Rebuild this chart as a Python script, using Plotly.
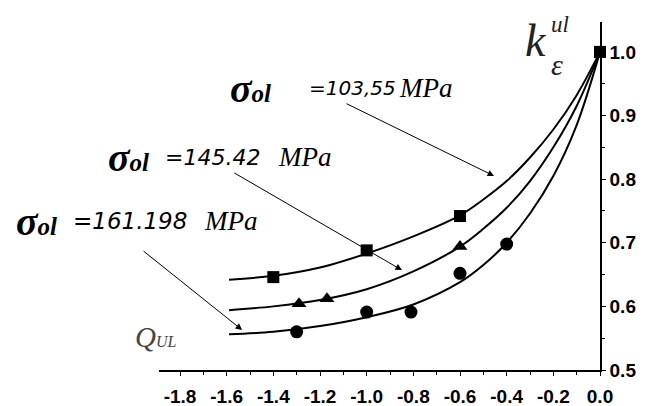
import plotly.graph_objects as go

# ---- data ----
x_ticks = [-1.8, -1.6, -1.4, -1.2, -1.0, -0.8, -0.6, -0.4, -0.2, 0.0]
x_tick_text = ["-1.8", "-1.6", "-1.4", "-1.2", "-1.0", "-0.8", "-0.6", "-0.4", "-0.2", "0.0"]
y_ticks = [0.5, 0.6, 0.7, 0.8, 0.9, 1.0]
y_tick_text = ["0.5", "0.6", "0.7", "0.8", "0.9", "1.0"]

# fitted curves
curve_x = [-1.59, -1.4, -1.2, -1.0, -0.8, -0.6, -0.5, -0.4, -0.3, -0.2, -0.1, 0.0]
curve_103 = [0.642, 0.648, 0.661, 0.683, 0.710, 0.743, 0.768, 0.797, 0.834, 0.878, 0.932, 1.0]
curve_145 = [0.594, 0.600, 0.610, 0.627, 0.655, 0.694, 0.722, 0.755, 0.797, 0.850, 0.915, 1.0]
curve_161 = [0.556, 0.560, 0.569, 0.583, 0.603, 0.638, 0.665, 0.700, 0.746, 0.805, 0.885, 1.0]

# measured points
sq_x = [-1.40, -1.00, -0.60, 0.0]
sq_y = [0.646, 0.688, 0.742, 1.0]
tri_x = [-1.29, -1.17, -0.60]
tri_y = [0.604, 0.612, 0.694]
circ_x = [-1.30, -1.00, -0.81, -0.60, -0.40]
circ_y = [0.560, 0.591, 0.591, 0.652, 0.698]

labels_val = ["=103,55", "=145.42", "=161.198"]

# ---- layout geometry ----
W, H = 655, 406
ML, MR, MT, MB = 159, 55, 22, 36
PW, PH = W - ML - MR, H - MT - MB

def px(xp):
    return (xp - ML) / PW

def py(yp):
    return (H - MB - yp) / PH

fig = go.Figure()
for cy in (curve_103, curve_145, curve_161):
    fig.add_trace(go.Scatter(x=curve_x, y=cy, mode="lines",
                             line=dict(color="black", width=2, shape="spline"),
                             cliponaxis=False, hoverinfo="skip"))
fig.add_trace(go.Scatter(x=sq_x, y=sq_y, mode="markers",
                         marker=dict(symbol="square", size=12, color="black"), cliponaxis=False))
fig.add_trace(go.Scatter(x=tri_x, y=tri_y, mode="markers",
                         marker=dict(symbol="triangle-up", size=13, color="black"), cliponaxis=False))
fig.add_trace(go.Scatter(x=circ_x, y=circ_y, mode="markers",
                         marker=dict(symbol="circle", size=13, color="black"), cliponaxis=False))

ann = []
serif = "Liberation Serif"
# sigma labels: (sigma left, value left, MPa left, center y, value font size)
label_pos = [(228, 307, 397, 88, 20), (106, 163, 276, 157, 22), (14, 71, 202, 221, 23)]
for (sx, vx, mx, cy, vs), val in zip(label_pos, labels_val):
    ann.append(dict(x=px(sx), y=py(cy), xref="paper", yref="paper", xanchor="left", yanchor="middle",
                    text='<b><i>σ<span style="font-size:25px">ol</span></i></b>', showarrow=False,
                    font=dict(family=serif, size=40, color="black")))
    ann.append(dict(x=px(vx), y=py(cy), xref="paper", yref="paper", xanchor="left", yanchor="middle",
                    text="<i>" + val + "</i>", showarrow=False,
                    font=dict(family="DejaVu Sans", size=vs, color="black")))
    ann.append(dict(x=px(mx), y=py(cy), xref="paper", yref="paper", xanchor="left", yanchor="middle",
                    text="<i>MPa</i>", showarrow=False, font=dict(family=serif, size=27, color="black")))

# arrows: tip in data coords, tail offset in pixels
arrows = [(-0.454, 0.805, -149, -73), (-0.849, 0.657, -169, -98), (-1.534, 0.563, -100, -80)]
for axx, ayy, dx, dy in arrows:
    ann.append(dict(x=axx, y=ayy, xref="x", yref="y", ax=dx, ay=dy, text="", showarrow=True,
                    arrowhead=2, arrowsize=1.3, arrowwidth=1, arrowcolor="black", standoff=0))

# axis title k_eps^ul
ann.append(dict(x=px(523), y=py(40), xref="paper", yref="paper", xanchor="left", yanchor="middle",
                text="<i>k</i>", showarrow=False, font=dict(family=serif, size=46, color="#222")))
ann.append(dict(x=px(549), y=py(25), xref="paper", yref="paper", xanchor="left", yanchor="middle",
                text="<i>ul</i>", showarrow=False, font=dict(family=serif, size=23, color="#222")))
ann.append(dict(x=px(549), y=py(64), xref="paper", yref="paper", xanchor="left", yanchor="middle",
                text="<i>ε</i>", showarrow=False, font=dict(family=serif, size=30, color="#222")))
# Q_UL
ann.append(dict(x=px(133), y=py(337), xref="paper", yref="paper", xanchor="left", yanchor="middle",
                text='<i>Q<span style="font-size:16px">UL</span></i>', showarrow=False,
                font=dict(family=serif, size=29, color="#444")))

tickfont = dict(family="Liberation Sans", size=19, color="black", weight="bold")
fig.update_layout(
    width=W, height=H, margin=dict(l=ML, r=MR, t=MT, b=MB),
    paper_bgcolor="white", plot_bgcolor="white", showlegend=False,
    annotations=ann,
    xaxis=dict(range=[-1.89, 0.0], tickvals=x_ticks, ticktext=x_tick_text, automargin=False,
               showgrid=False, zeroline=False, showline=True, linecolor="black", linewidth=1.5,
               ticks="outside", ticklen=4, tickcolor="black", ticklabelstandoff=4,
               minor=dict(dtick=0.1, tick0=0, ticks="outside", ticklen=3, tickcolor="black"),
               tickfont=tickfont),
    yaxis=dict(range=[0.5, 1.047], tickvals=y_ticks, ticktext=y_tick_text, side="right", automargin=False,
               showgrid=False, zeroline=False, showline=True, linecolor="black", linewidth=1.5,
               ticks="outside", ticklen=4, tickcolor="black",
               minor=dict(dtick=0.05, tick0=0, ticks="outside", ticklen=3, tickcolor="black"),
               tickfont=tickfont),
)
fig.write_html("out.html")
